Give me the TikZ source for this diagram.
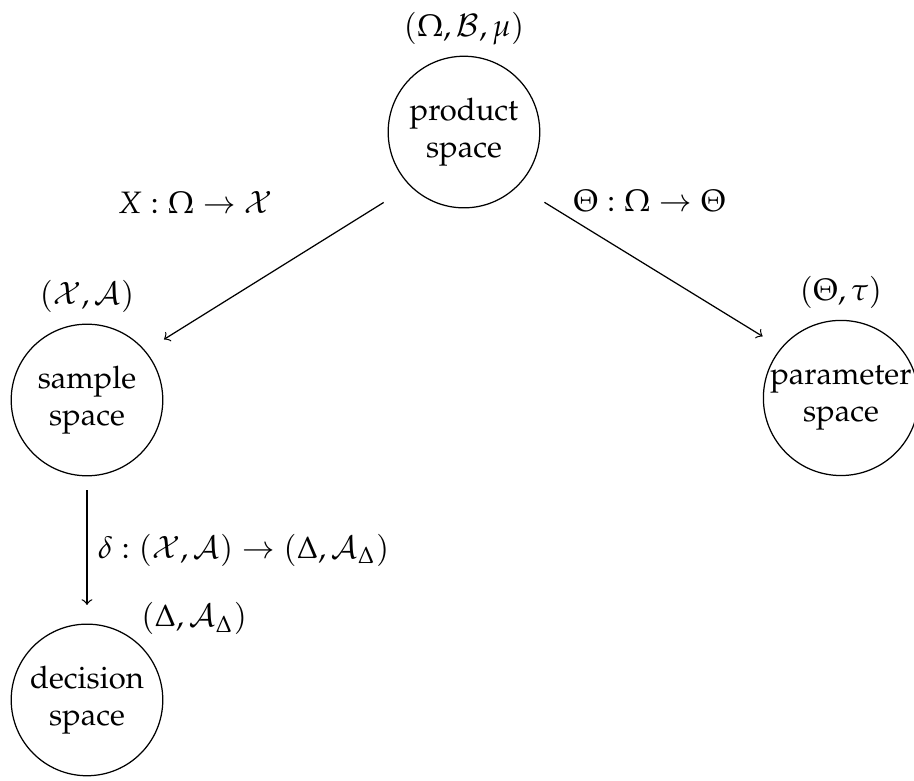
\documentclass[tikz,border=0pt]{standalone}
\usepackage{amsmath,amssymb}
\usepackage[T1]{fontenc}
\usepackage{mathpazo}
\usepackage{tikz}
\usetikzlibrary{positioning}

\begin{document}
\begin{tikzpicture}[x=1cm,y=1cm,->,
  space/.style={circle,draw,align=center,inner sep=0pt,minimum size=1.72cm,
    label distance=3pt}]
 \useasboundingbox (0,0) rectangle (10.37,-8.85);
 \node[space,label=above:{$(\Omega,\mathcal{B},\mu)$}] (prod) at (5.264,-1.498) {product\\space};
 \node[space,label=above:{$(\mathcal{X},\mathcal{A})$}] (sample) at (0.987,-4.538) {sample\\space};
 \node[space,label=above:{$(\Theta,\tau)$}] (param) at (9.541,-4.515) {parameter\\space};
 \node[space,label={[label distance=0pt,xshift=-3.5pt]45:{$(\Delta,\mathcal{A}_\Delta)$}}] (dec) at (0.987,-7.941) {decision\\space};
 \draw[shorten <=10pt,shorten >=7pt] (prod.225) -- (sample.40)
   node[midway,above left=14pt and -2pt] {$X:\Omega\to\mathcal{X}$};
 \draw[shorten <=10pt,shorten >=7pt] (prod.-45) -- (param.140)
   node[midway,above=14pt] {$\Theta:\Omega\to\Theta$};
 \draw[shorten <=4.5pt,shorten >=6pt] (sample.south) -- (dec.north)
   node[midway,right] {$\delta:(\mathcal{X},\mathcal{A})\to(\Delta,\mathcal{A}_\Delta)$};
\end{tikzpicture}
\end{document}
